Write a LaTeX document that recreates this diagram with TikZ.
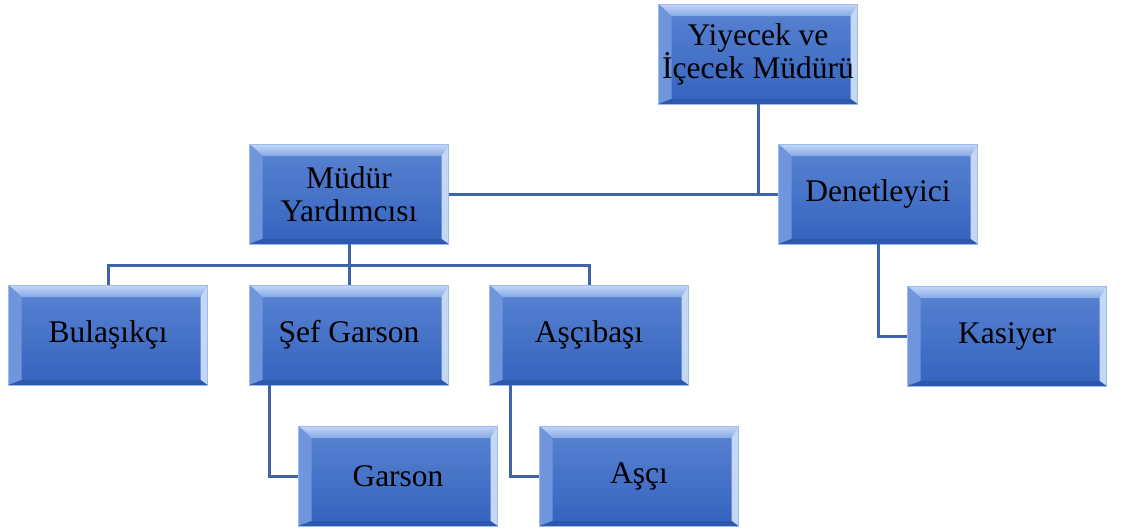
\documentclass[tikz,border=0pt]{standalone}
\usepackage{fontspec}
\setmainfont{Liberation Serif}
\definecolor{linkblue}{HTML}{4064AC}
\definecolor{boxtop}{HTML}{5A84D2}
\definecolor{boxbot}{HTML}{3462BE}
\definecolor{boxrim}{HTML}{9DBBEE}
\definecolor{bevlight}{HTML}{86A8E6}
\definecolor{bevside}{HTML}{6F95DC}
\definecolor{bevright}{HTML}{C4D8F6}
\definecolor{bevdark}{HTML}{2D58AE}
\tikzset{
  x=1pt, y=-1pt,
  orgbox/.style={
    minimum width=199pt, minimum height=100pt, inner sep=0pt,
    align=center, font=\fontsize{31.5}{33}\selectfont,
    top color=boxtop, bottom color=boxbot,
    draw=boxrim, line width=0.8pt,
    path picture={
      % bevelled rim: light top and sides, darker bottom
      \coordinate (nw) at (path picture bounding box.north west);
      \coordinate (ne) at (path picture bounding box.north east);
      \coordinate (sw) at (path picture bounding box.south west);
      \coordinate (se) at (path picture bounding box.south east);
      \shade[top color=bevright, bottom color=bevlight]
        (nw) -- (ne) -- ([xshift=-7pt,yshift=-12pt]ne) -- ([xshift=13pt,yshift=-12pt]nw) -- cycle;
      \fill[bevside]
        (nw) -- ([xshift=13pt,yshift=-12pt]nw) -- ([xshift=13pt,yshift=5pt]sw) -- (sw) -- cycle;
      \fill[bevright]
        (ne) -- ([xshift=-7pt,yshift=-12pt]ne) -- ([xshift=-7pt,yshift=5pt]se) -- (se) -- cycle;
      \fill[bevdark]
        (sw) -- ([xshift=13pt,yshift=5pt]sw) -- ([xshift=-7pt,yshift=5pt]se) -- (se) -- cycle;
    }
  },
  link/.style={draw=linkblue, line width=3pt}
}
\begin{document}
\begin{tikzpicture}
\useasboundingbox (0,0) rectangle (1128,531);

% boxes of the staff chart
\node[orgbox] (yv) at (758,54)  {Yiyecek ve\\İçecek Müdürü};
\node[orgbox] (my) at (349,194) {Müdür\\Yardımcısı};
\node[orgbox] (dn) at (878,194) {Denetleyici};
\node[orgbox] (bl) at (108,335) {Bulaşıkçı};
\node[orgbox] (sg) at (349,335) {Şef Garson};
\node[orgbox] (ab) at (589,335) {Aşçıbaşı};
\node[orgbox] (ks) at (1007,336) {Kasiyer};
\node[orgbox] (gr) at (398,476) {Garson};
\node[orgbox] (as) at (639,476) {Aşçı};

% reporting lines
\coordinate (bus) at (349,265);
\draw[link] (my.east) -- (yv.south |- my.east);
\draw[link] (yv.south) |- (dn.west);
\draw[link] (my.south) -- (sg.north);
\draw[link] (bl.north) |- (bus) -| (ab.north);
\draw[link] ([xshift=-80pt]sg.south) |- (gr.west);
\draw[link] ([xshift=-79pt]ab.south) |- (as.west);
\draw[link] (dn.south) |- (ks.west);
\end{tikzpicture}
\end{document}
